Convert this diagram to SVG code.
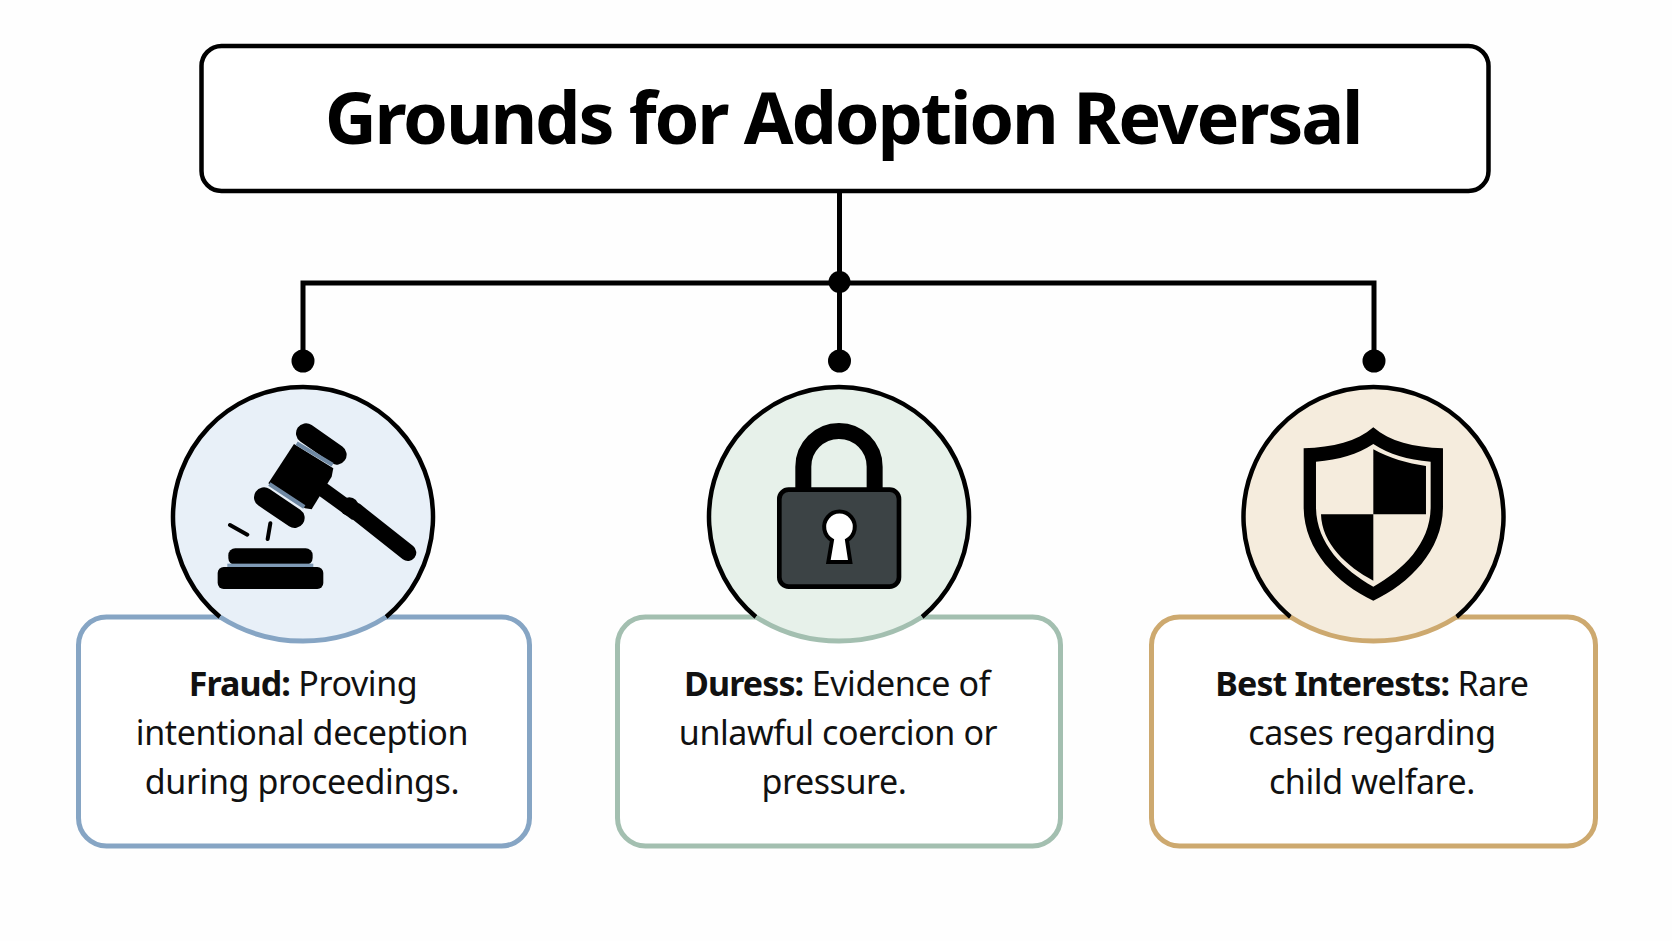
<svg xmlns="http://www.w3.org/2000/svg" width="1672" height="941" viewBox="0 0 1672 941">
<style>
text{font-family:"Noto Sans","Open Sans","Liberation Sans",sans-serif;fill:#111;text-anchor:middle}
.title{font-size:72px;font-weight:700;fill:#000;letter-spacing:-2.2px}
.body{font-size:34px;letter-spacing:-.4px}
.b{font-weight:700;letter-spacing:-.9px}
.box{fill:#fff;stroke-width:5}
.disc{stroke:none}
.rim{fill:none;stroke:#000;stroke-width:4.5}
.low{fill:none;stroke-width:5}
.conn{fill:none;stroke:#000;stroke-width:5}
.k{fill:#000}
.blue{stroke:#86a5c4}.green{stroke:#a3bfb0}.tan{stroke:#cda96f}
</style>
<rect width="1672" height="941" fill="#fefefe"/>
<g id="connectors">
<path class="conn" d="M839.500 190V361M303 361V283H1374V361"/>
<circle class="k" cx="839.500" cy="282" r="11"/>
<circle class="k" cx="303" cy="361" r="11.500"/>
<circle class="k" cx="839.500" cy="361" r="11.500"/>
<circle class="k" cx="1374" cy="361" r="11.500"/>
</g>
<g id="title">
<rect x="201.500" y="46" width="1287" height="145" rx="20" fill="#fff" stroke="#000" stroke-width="4.500"/>
<text class="title" x="843" y="144">Grounds for Adoption Reversal</text>
</g>
<g id="fraud">
<rect class="box blue" x="78.500" y="617" width="451" height="229" rx="28"/>
<path class="disc" d="M220 617A130 130 0 1 1 386 617A155 155 0 0 1 220 617Z" fill="#e8f0f8"/>
<path class="rim" d="M220 617A130 130 0 1 1 386 617"/>
<path class="low blue" d="M220 617A155 155 0 0 0 386 617"/>
<g transform="translate(140 360) scale(.3333)">
<path stroke="#000" stroke-width="60" stroke-linecap="round" d="M498 220L590 284M372 412L464 474"/>
<path class="k" d="M462 252L580 325L575 350L515 448L495 445L385 370Z"/>
<path fill="none" stroke="#6e88a3" stroke-width="12" d="M470 250L578 314M388 372L493 441"/>
<path stroke="#000" stroke-width="50" stroke-linecap="round" d="M645 452L804 578"/>
<path stroke="#000" stroke-width="44" d="M530 375L650 462"/>
<circle class="k" cx="628" cy="440" r="28"/>
<path fill="none" stroke="#000" stroke-width="12" stroke-linecap="round" d="M270 495L322 524M391 490L383 537"/>
<rect class="k" x="265" y="565" width="253" height="50" rx="21"/>
<rect x="262" y="611" width="258" height="11" fill="#7f9ab5"/>
<rect class="k" x="233" y="621" width="317" height="66" rx="18"/>
</g>
<text class="body" x="303" y="696"><tspan class="b">Fraud:</tspan> Proving</text>
<text class="body" x="302" y="745">intentional deception</text>
<text class="body" x="302" y="794">during proceedings.</text>
</g>
<g id="duress">
<rect class="box green" x="617.500" y="617" width="443" height="229" rx="28"/>
<path class="disc" d="M756 617A130 130 0 1 1 922 617A155 155 0 0 1 756 617Z" fill="#e7f1ea"/>
<path class="rim" d="M756 617A130 130 0 1 1 922 617"/>
<path class="low green" d="M756 617A155 155 0 0 0 922 617"/>
<g transform="translate(680 360) scale(.3333)">
<path fill="none" stroke="#000" stroke-width="48" d="M370 390V320A107 107 0 0 1 584 320V390"/>
<rect x="298" y="389" width="359" height="291" rx="28" fill="#3c4345" stroke="#000" stroke-width="14"/>
<path fill="#fff" stroke="#000" stroke-width="12" d="M456 541A46 46 0 1 1 501 541L511 606H445Z"/>
</g>
<text class="body" x="837" y="696"><tspan class="b">Duress:</tspan> Evidence of</text>
<text class="body" x="838" y="745">unlawful coercion or</text>
<text class="body" x="834" y="794">pressure.</text>
</g>
<g id="best-interests">
<rect class="box tan" x="1151.500" y="617" width="444" height="229" rx="28"/>
<path class="disc" d="M1290.500 617A130 130 0 1 1 1456.500 617A155 155 0 0 1 1290.500 617Z" fill="#f5ecdd"/>
<path class="rim" d="M1290.500 617A130 130 0 1 1 1456.500 617"/>
<path class="low tan" d="M1290.500 617A155 155 0 0 0 1456.500 617"/>
<g transform="translate(1210 360) scale(.3333)">
<path class="k" d="M490 202C440 245 370 262 281 265V440C281 570 380 670 490 722C600 670 699 570 699 440V265C610 262 540 245 490 202Z"/>
<path fill="#f5ecdd" d="M490 252C440 285 390 298 318 305V440C318 550 400 630 490 680C580 630 662 550 662 440V305C590 298 540 285 490 252Z"/>
<path class="k" d="M490 268C540 295 590 310 648 318V463H490ZM333 463H490V662C410 620 335 550 333 463Z"/>
</g>
<text class="body" x="1372" y="696"><tspan class="b">Best Interests:</tspan> Rare</text>
<text class="body" x="1372" y="745">cases regarding</text>
<text class="body" x="1372" y="794">child welfare.</text>
</g>
</svg>
